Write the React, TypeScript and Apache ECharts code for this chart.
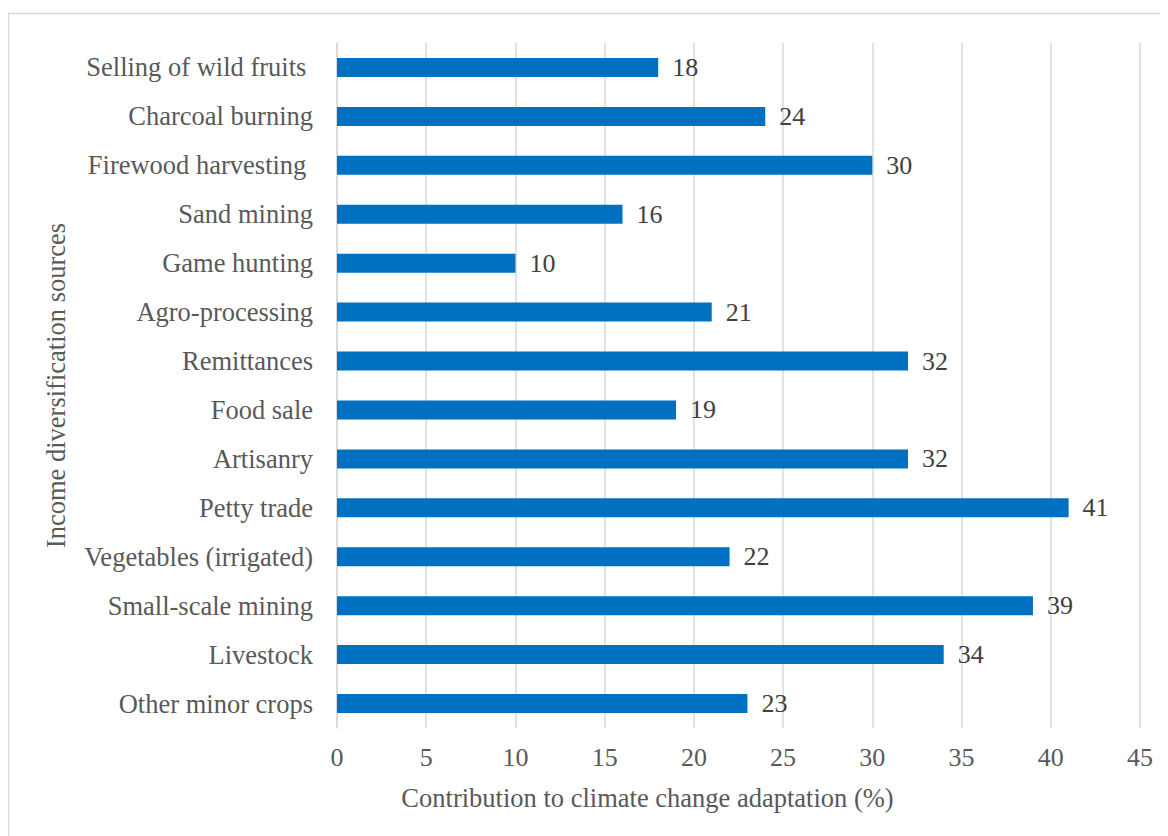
import React, { useEffect, useRef } from "react";
import * as echarts from "echarts";

const categories = [
  "Selling of wild fruits ",
  "Charcoal burning",
  "Firewood harvesting ",
  "Sand mining",
  "Game hunting",
  "Agro-processing",
  "Remittances",
  "Food sale",
  "Artisanry",
  "Petty trade",
  "Vegetables (irrigated)",
  "Small-scale mining",
  "Livestock",
  "Other minor crops",
];
const values = [18, 24, 30, 16, 10, 21, 32, 19, 32, 41, 22, 39, 34, 23];
const xTicks = { min: 0, max: 45, interval: 5 };

const FONT = '"Liberation Serif", "Times New Roman", serif';

export default function App() {
  const ref = useRef<HTMLDivElement>(null);
  useEffect(() => {
    if (!ref.current) return;
    const chart = echarts.init(ref.current, null, { renderer: "svg" });
    chart.setOption({
      animation: false,
      textStyle: { fontFamily: FONT },
      graphic: [
        {
          type: "rect",
          shape: { x: 0.5, y: 5.5, width: 1300, height: 1000 },
          style: { fill: "none", stroke: "#d9d9d9", lineWidth: 1.5 },
          silent: true,
        },
      ],
      grid: { left: 329, right: 28, top: 35, bottom: 108, containLabel: false },
      xAxis: {
        type: "value",
        min: xTicks.min,
        max: xTicks.max,
        interval: xTicks.interval,
        name: "Contribution to climate change adaptation (%)",
        nameLocation: "middle",
        nameGap: 56,
        nameTextStyle: {
          fontFamily: FONT,
          fontSize: 26.5,
          color: "#595959",
          padding: [0, 182, 0, 0],
        },
        axisLine: { show: false },
        axisTick: { show: false },
        axisLabel: { fontFamily: FONT, fontSize: 26, color: "#595959", margin: 16 },
        splitLine: { show: true, lineStyle: { color: "#d9d9d9", width: 1.5 } },
      },
      yAxis: {
        type: "category",
        data: categories,
        inverse: true,
        name: "Income diversification sources",
        nameLocation: "middle",
        nameGap: 268,
        nameRotate: 90,
        nameTextStyle: { fontFamily: FONT, fontSize: 26.5, color: "#595959" },
        axisLine: { show: true, lineStyle: { color: "#d9d9d9", width: 1.5 } },
        axisTick: { show: false },
        axisLabel: { fontFamily: FONT, fontSize: 26.5, color: "#595959", margin: 24 },
        splitLine: { show: false },
      },
      series: [
        {
          type: "bar",
          data: values,
          barWidth: 19,
          itemStyle: { color: "#0070C0" },
          label: {
            show: true,
            position: "right",
            distance: 14,
            fontFamily: FONT,
            fontSize: 26,
            color: "#404040",
          },
        },
      ],
    });
    return () => chart.dispose();
  }, []);
  return <div ref={ref} style={{ width: 1160, height: 828 }} />;
}
